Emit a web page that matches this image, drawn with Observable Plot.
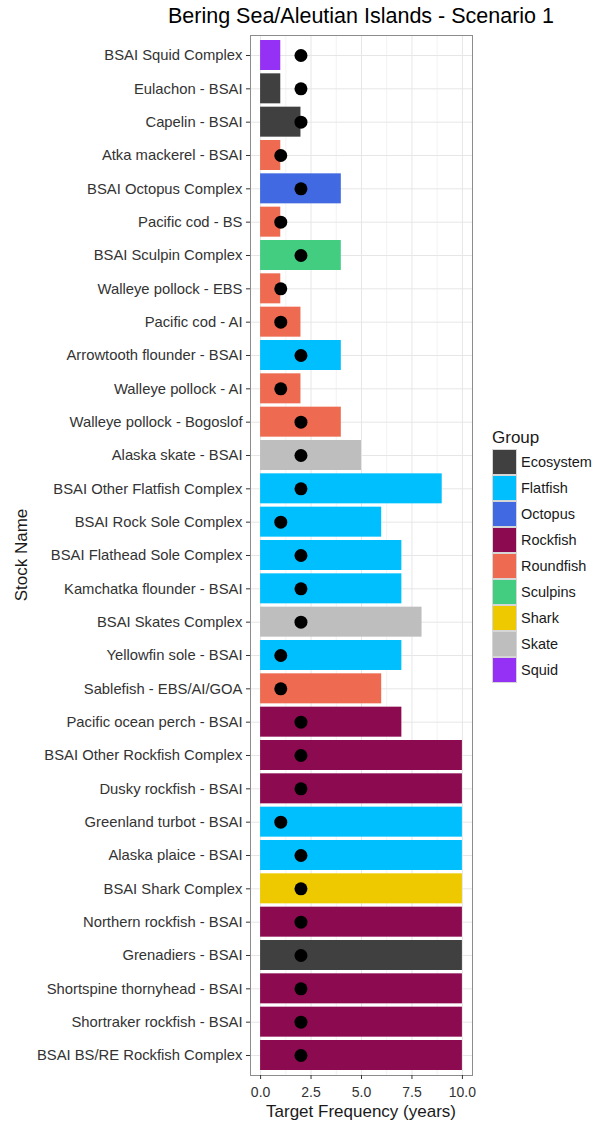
<!DOCTYPE html>
<html>
<head>
<meta charset="utf-8">
<script src="https://cdn.jsdelivr.net/npm/d3@7"></script>
<script src="https://cdn.jsdelivr.net/npm/@observablehq/plot@0.6"></script>
<style>
  html, body { margin: 0; padding: 0; background: #fff; }
  #wrap { position: relative; width: 600px; height: 1125px; font-family: "Liberation Sans", Arial, sans-serif; color: #1a1a1a; }
  .abs { position: absolute; white-space: nowrap; line-height: 1; }
  #chart svg { display: block; }
</style>
</head>
<body>
<div id="wrap">
  <div id="chart"></div>
</div>
<script>
const names = [
  "BSAI Squid Complex", "Eulachon - BSAI", "Capelin - BSAI", "Atka mackerel - BSAI",
  "BSAI Octopus Complex", "Pacific cod - BS", "BSAI Sculpin Complex", "Walleye pollock - EBS",
  "Pacific cod - AI", "Arrowtooth flounder - BSAI", "Walleye pollock - AI", "Walleye pollock - Bogoslof",
  "Alaska skate - BSAI", "BSAI Other Flatfish Complex", "BSAI Rock Sole Complex", "BSAI Flathead Sole Complex",
  "Kamchatka flounder - BSAI", "BSAI Skates Complex", "Yellowfin sole - BSAI", "Sablefish - EBS/AI/GOA",
  "Pacific ocean perch - BSAI", "BSAI Other Rockfish Complex", "Dusky rockfish - BSAI", "Greenland turbot - BSAI",
  "Alaska plaice - BSAI", "BSAI Shark Complex", "Northern rockfish - BSAI", "Grenadiers - BSAI",
  "Shortspine thornyhead - BSAI", "Shortraker rockfish - BSAI", "BSAI BS/RE Rockfish Complex"
];
const groups = [
  "Squid", "Ecosystem", "Ecosystem", "Roundfish",
  "Octopus", "Roundfish", "Sculpins", "Roundfish",
  "Roundfish", "Flatfish", "Roundfish", "Roundfish",
  "Skate", "Flatfish", "Flatfish", "Flatfish",
  "Flatfish", "Skate", "Flatfish", "Roundfish",
  "Rockfish", "Rockfish", "Rockfish", "Flatfish",
  "Flatfish", "Shark", "Rockfish", "Ecosystem",
  "Rockfish", "Rockfish", "Rockfish"
];
const frequency = [
  1, 1, 2, 1,
  4, 1, 4, 1,
  2, 4, 2, 4,
  5, 9, 6, 7,
  7, 8, 7, 6,
  7, 10, 10, 10,
  10, 10, 10, 10,
  10, 10, 10
];
const target = [
  2, 2, 2, 1,
  2, 1, 2, 1,
  1, 2, 1, 2,
  2, 2, 1, 2,
  2, 2, 1, 1,
  2, 2, 2, 1,
  2, 2, 2, 2,
  2, 2, 2
];
const groupNames = ["Ecosystem", "Flatfish", "Octopus", "Rockfish", "Roundfish", "Sculpins", "Shark", "Skate", "Squid"];
const groupColors = ["#404040", "#00BFFF", "#4169E1", "#8B0A50", "#EE6A50", "#43CD80", "#EEC900", "#BEBEBE", "#9530F5"];
const xTicks = [0, 2.5, 5, 7.5, 10];
const xMinor = [1.25, 3.75, 6.25, 8.75];

const data = names.map((n, i) => ({name: n, group: groups[i], freq: frequency[i], target: target[i]}));

const chart = Plot.plot({
  width: 600,
  height: 1125,
  marginTop: 35,
  marginBottom: 50,
  marginLeft: 250,
  marginRight: 128,
  style: {fontFamily: "'Liberation Sans', Arial, sans-serif", background: "white", color: "#1a1a1a"},
  x: {domain: [-0.5, 10.5]},
  y: {domain: names, paddingInner: 0.1, paddingOuter: 0.15, round: false},
  color: {domain: groupNames, range: groupColors},
  marks: [
    Plot.ruleX(xMinor, {stroke: "#f3f3f3", strokeWidth: 1}),
    Plot.ruleX(xTicks, {stroke: "#e6e6e6", strokeWidth: 1}),
    Plot.gridY({stroke: "#e6e6e6", strokeOpacity: 1, strokeWidth: 1}),
    Plot.barX(data, {x1: 0, x2: "freq", y: "name", fill: "group"}),
    Plot.dot(data, {x: "target", y: "name", r: 6.5, fill: "black", stroke: "none"}),
    Plot.frame({stroke: "#8c8c8c", strokeWidth: 1}),
    Plot.axisX({ticks: xTicks, tickFormat: d3.format(".1f"), tickSize: 4, tickPadding: 8, fontSize: 14, label: null, color: "#333"}),
    Plot.axisY({tickSize: 4, tickPadding: 4, fontSize: 14.8, label: null, color: "#333"})
  ]
});
document.getElementById("chart").appendChild(chart);

const wrap = document.getElementById("wrap");
function addText(txt, css) {
  const d = document.createElement("div");
  d.className = "abs";
  d.textContent = txt;
  Object.assign(d.style, css);
  wrap.appendChild(d);
  return d;
}
// Title
addText("Bering Sea/Aleutian Islands - Scenario 1", {left: "361px", top: "6px", fontSize: "21.5px", transform: "translateX(-50%)", color: "#000"});
// X axis title
addText("Target Frequency (years)", {left: "361px", top: "1103px", fontSize: "17px", transform: "translateX(-50%)", color: "#1a1a1a"});
// Y axis title
addText("Stock Name", {left: "21px", top: "555px", fontSize: "17px", transform: "translate(-50%, -50%) rotate(-90deg)", color: "#1a1a1a"});
// Legend
addText("Group", {left: "492px", top: "429px", fontSize: "17px", color: "#1a1a1a"});
groupNames.forEach((g, i) => {
  const top = 449 + i * 26;
  const k = document.createElement("div");
  Object.assign(k.style, {position: "absolute", left: "492px", top: top + "px", width: "25px", height: "26px",
    boxSizing: "border-box", border: "1px solid #d6d6d6", background: groupColors[i]});
  wrap.appendChild(k);
  addText(g, {left: "521px", top: (top + 13) + "px", fontSize: "14.5px", transform: "translateY(-50%)", color: "#1a1a1a"});
});
</script>
</body>
</html>
